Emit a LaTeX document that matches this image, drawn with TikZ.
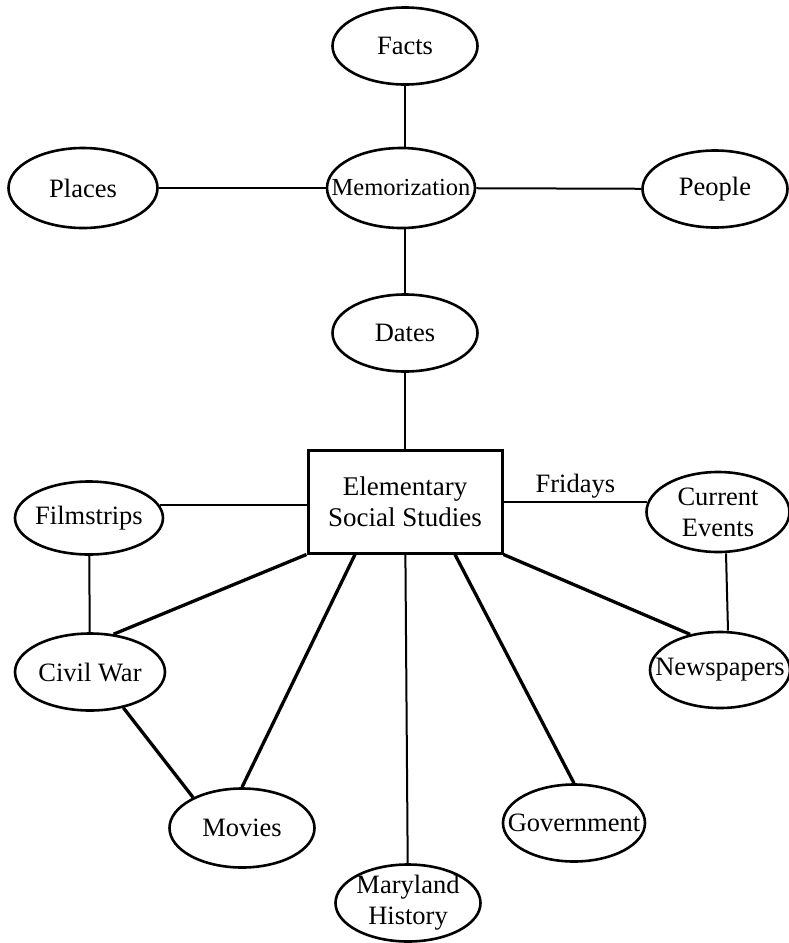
\documentclass[tikz,border=0pt]{standalone}
\usepackage{fontspec}
\setmainfont{Liberation Serif}
\usetikzlibrary{shapes.geometric}

\begin{document}
\begin{tikzpicture}[x=1pt,y=-1pt,
    bubble/.style={ellipse,draw,line width=2.6pt,inner sep=0pt,minimum width=145pt,minimum height=77pt},
    txt/.style={font=\fontsize{26.5}{31}\selectfont,align=center,inner sep=0pt},
    thin/.style={line width=2pt},
    thick/.style={line width=3.3pt}]
  \useasboundingbox (0,0) rectangle (789,943);
  % memorization cluster
  \node[bubble,label={[txt]center:Facts}] (facts) at (405,46) {};
  \node[bubble,minimum width=148pt,minimum height=80pt,
        label={[txt,font=\fontsize{24.5}{30}\selectfont]center:Memorization}] (memo) at (401,188) {};
  \node[bubble,minimum width=149pt,minimum height=80pt,label={[txt]center:Places}] (places) at (83,188) {};
  \node[bubble,label={[txt]center:People}] (people) at (715,189) {};
  \node[bubble,label={[txt]center:Dates}] (dates) at (405,333) {};
  % center box
  \node[draw,line width=3pt,minimum width=194pt,minimum height=103pt,txt,
        font=\fontsize{27}{31}\selectfont] (studies) at (405,501.5) {Elementary\\Social Studies};
  % around the box
  \node[bubble,minimum width=148pt,minimum height=73pt,label={[txt]center:Filmstrips}] (filmstrips) at (89,518) {};
  \node[bubble,minimum width=143pt,minimum height=80pt,label={[txt]center:Current\\Events}] (current) at (718,512) {};
  \node[bubble,minimum width=150pt,label={[txt]center:Civil War}] (civilwar) at (90,672) {};
  \node[bubble,minimum width=140pt,minimum height=76pt,label={[txt]center:Newspapers}] (newspapers) at (720,670) {};
  \node[bubble,minimum height=79pt,label={[txt]center:Movies}] (movies) at (242,828) {};
  \node[bubble,label={[txt]center:Maryland\\History}] (maryland) at (408,903) {};
  \node[bubble,minimum width=142pt,label={[txt]center:Government}] (government) at (574,823) {};
  \draw[thin] (facts) -- (facts |- memo.north);
  \draw[thin] (places) -- (memo);
  \draw[thin] (memo) -- (people);
  \draw[thin] (dates |- memo.south) -- (dates);
  \draw[thin] (dates) -- (studies);
  \draw[thin] (filmstrips.10) -- (filmstrips.10 -| studies.west);
  \draw[thin] (current.172 -| studies.east) -- node[above,txt,inner sep=3pt] (fridays) {Fridays} (current.172);
  \draw[thin] (filmstrips) -- (civilwar);
  \draw[thin] ([xshift=8pt]current.south) -- ([xshift=8pt]newspapers.north);
  \draw[thin] (studies) -- (maryland);
  \draw[thick] (studies.south west) -- (civilwar.58);
  \draw[thick] ([xshift=-50pt]studies.south) -- (movies.north);
  \draw[thick] ([xshift=50pt]studies.south) -- (government.north);
  \draw[thick] (studies.south east) -- (newspapers.130);
  \draw[thick] (civilwar.-47) -- (movies.148);
\end{tikzpicture}
\end{document}
